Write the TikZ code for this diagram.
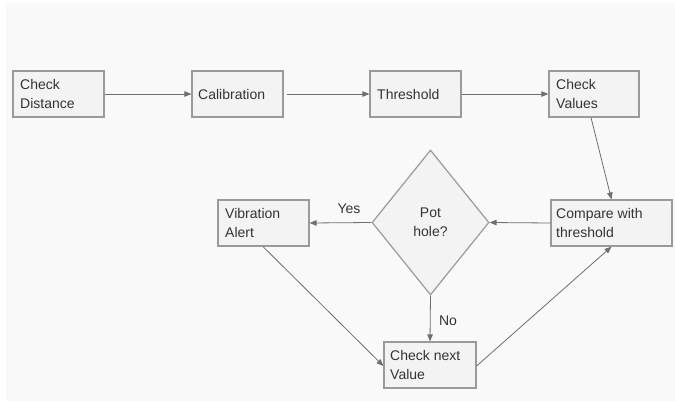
\documentclass[tikz,border=0pt]{standalone}
\usepackage{fontspec}
\setmainfont{Liberation Sans}
\usetikzlibrary{shapes.geometric,arrows.meta}
\definecolor{bg}{HTML}{F9F9F9}
\definecolor{boxfill}{HTML}{F3F3F3}
\definecolor{boxline}{HTML}{9A9A9A}
\definecolor{arr}{HTML}{6E6E6E}
\definecolor{txt}{HTML}{333333}
\begin{document}
\begin{tikzpicture}[x=1pt,y=-1pt,
  stepbox/.style={draw=boxline,line width=1.2pt,fill=boxfill,rectangle,anchor=north west,
     text=txt,font=\fontsize{14}{19}\selectfont,align=left,inner sep=0pt,text width=#1},
  decide/.style={draw=boxline,line width=1.2pt,fill=boxfill,diamond,
     text=txt,font=\fontsize{14}{19}\selectfont,align=center,inner sep=0pt,
     minimum width=117pt,minimum height=145pt},
  flow/.style={draw=arr,line width=0.8pt,-{Triangle[length=7pt,width=5.5pt]}},
  lbl/.style={text=txt,font=\fontsize{14}{17}\selectfont,inner sep=0pt}]
\useasboundingbox (0,0) rectangle (675,402);
\fill[white] (0,0) rectangle (675,402);
\fill[bg] (6,3) rectangle (675,401);
% boxes as rectangles with text
\newcommand{\mybox}[7]{%
  \node[draw=boxline,line width=1.2pt,fill=boxfill,rectangle,minimum width=#4pt,minimum height=#5pt,inner sep=0pt] (#1) at (#2+#4/2,#3+#5/2) {};
  \node[text=txt,font=\fontsize{14}{19}\selectfont,align=left,inner sep=0pt,anchor=west] (#1t) at (#2+#6,#3+#5/2) {#7};}
\mybox{cd}{13}{71}{91}{46}{7}{Check\\Distance}
\mybox{cal}{192}{71}{91}{46}{6}{Calibration}
\mybox{thr}{370}{71}{91}{46}{7}{Threshold}
\mybox{cv}{549}{71}{90}{46}{7}{Check\\Values}
\mybox{cmp}{551}{200}{121}{46}{5}{Compare with\\threshold}
\mybox{vib}{218}{200}{91}{46}{7}{Vibration\\Alert}
\mybox{nxt}{384}{342}{92}{46}{6}{Check next\\Value}
\node[decide] (pot) at (430.5,222.5) {Pot\\hole?};
% connectors
\draw[flow] (cd.east) -- (cal.west);
\draw[flow] ([xshift=3pt]cal.east) -- (thr.west);
\draw[flow] (thr.east) -- (cv.west);
\draw[flow] ([xshift=-3pt]cv.south) -- ([xshift=0pt]cmp.north);
\draw[flow] (cmp.west) -- (pot.east);
\draw[flow] (pot.west) -- (vib.east);
\draw[flow] (pot.south) -- (nxt.north);
\draw[flow] ([xshift=-0.5pt]vib.south) -- ([yshift=-1pt]nxt.west);
\draw[flow] ([yshift=-1pt]nxt.east) -- ([xshift=0pt]cmp.south);
\node[lbl] (yes) at (349,209) {Yes};
\node[lbl] (no) at (448,321) {No};
\end{tikzpicture}
\end{document}
